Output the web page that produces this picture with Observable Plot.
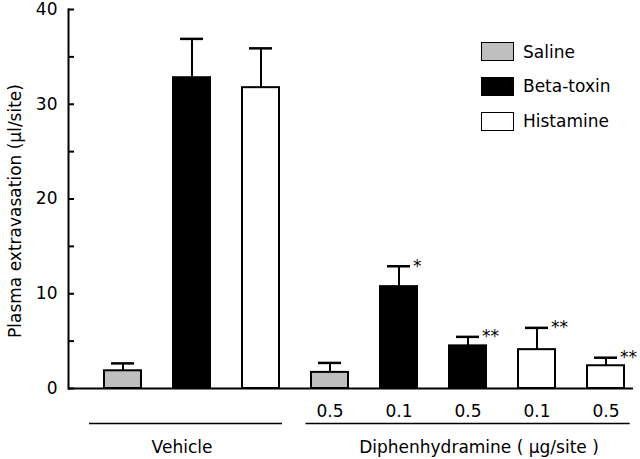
<!DOCTYPE html>
<html><head><meta charset="utf-8">
<script src="https://cdn.jsdelivr.net/npm/d3@7"></script>
<script src="https://cdn.jsdelivr.net/npm/@observablehq/plot@0.6"></script>
<style>
body{margin:0;background:#fff;}
#wrap{position:relative;width:640px;height:459px;font-family:"DejaVu Sans",sans-serif;}
#legend{position:absolute;left:481px;top:42px;}
.row{display:flex;align-items:center;height:19px;margin-bottom:15.8px;font-size:17px;color:#000;}
.sw{box-sizing:border-box;width:33px;height:19px;border:1.5px solid #000;margin-right:9px;}
</style></head><body><div id="wrap"><div id="legend"></div></div>
<script>
const barIds = ["v-sal","v-beta","v-his","d-sal","d-beta1","d-beta5","d-his1","d-his5"];
const treatments = ["Saline","Beta-toxin","Histamine","Saline","Beta-toxin","Beta-toxin","Histamine","Histamine"];
const means = [1.87, 32.8, 31.75, 1.7, 10.75, 4.5, 4.1, 2.4];
const upper = [2.65, 36.9, 35.9, 2.7, 12.9, 5.45, 6.4, 3.25];
const doses = ["","","","0.5","0.1","0.5","0.1","0.5"];
const stars = ["","","","","*","**","**","**"];
const seriesNames = ["Saline","Beta-toxin","Histamine"];
const seriesColors = ["#bfbfbf","#000000","#ffffff"];
const groupNames = ["Vehicle","Diphenhydramine ( µg/site )"];
const groupFirst = ["v-sal","d-sal"];
const groupMid = ["v-beta","d-beta5"];
const groupLast = ["v-his","d-his5"];
const yTicks = [0,5,10,15,20,25,30,35,40];
const yLabel = "Plasma extravasation (µl/site)";

const data = barIds.map((id,i)=>({id, treatment: treatments[i], mean: means[i], upper: upper[i], dose: doses[i], star: stars[i]}));
const groups = groupNames.map((name,i)=>({name, first: groupFirst[i], mid: groupMid[i], last: groupLast[i]}));
const groupStyle = [{insetLeft:-15, insetRight:-3, dx:-10}, {insetLeft:-5.5, insetRight:-5.7, dx:11}];

const chart = Plot.plot({
  width: 640, height: 459,
  marginTop: 9, marginBottom: 71, marginLeft: 68, marginRight: 7,
  style: {fontFamily: "DejaVu Sans", fontSize: "17px", color: "#000", background: "#fff", overflow: "visible"},
  x: {type: "band", domain: barIds, range: [101.5, 626], paddingInner: 0.469, paddingOuter: 0, axis: null},
  y: {domain: [0, 40], axis: null},
  color: {domain: seriesNames, range: seriesColors},
  marks: [
    Plot.axisY(yTicks, {tickSize: -6, tickPadding: 17, tickFormat: d => d % 10 === 0 ? String(d) : "", label: null, strokeWidth: 2}),
    Plot.ruleX(data, {x: "id", y1: "mean", y2: "upper", strokeWidth: 2}),
    Plot.tickY(data, {x: "id", y: "upper", strokeWidth: 2.5, insetLeft: 7, insetRight: 7}),
    Plot.barY(data, {x: "id", y: "mean", fill: "treatment", stroke: "#000", strokeWidth: 2}),
    Plot.frame({anchor: "left", strokeWidth: 2}),
    Plot.ruleY([0], {strokeWidth: 2}),
    Plot.text(data, {x: "id", y: 0, text: "dose", lineAnchor: "bottom", dy: 28}),
    Plot.text(data, {x: "id", y: "upper", text: "star", textAnchor: "start", dx: 14, dy: 0}),
    ...groups.map((g, i) => Plot.ruleY([g], {x1: "first", x2: "last", y: () => 0, dy: 35, strokeWidth: 1.5, insetLeft: groupStyle[i].insetLeft, insetRight: groupStyle[i].insetRight})),
    ...groups.map((g, i) => Plot.text([g], {x: "mid", y: () => 0, text: "name", lineAnchor: "bottom", dy: 64, dx: groupStyle[i].dx})),
    Plot.text([yLabel], {frameAnchor: "left", textAnchor: "middle", rotate: -90, dx: -53, dy: 12})
  ]
});
document.getElementById("wrap").prepend(chart);

const legend = d3.select("#legend");
seriesNames.forEach((name, i) => {
  const row = legend.append("div").attr("class", "row");
  row.append("div").attr("class", "sw").style("background", seriesColors[i]);
  row.append("span").text(name);
});
</script>
</body></html>
